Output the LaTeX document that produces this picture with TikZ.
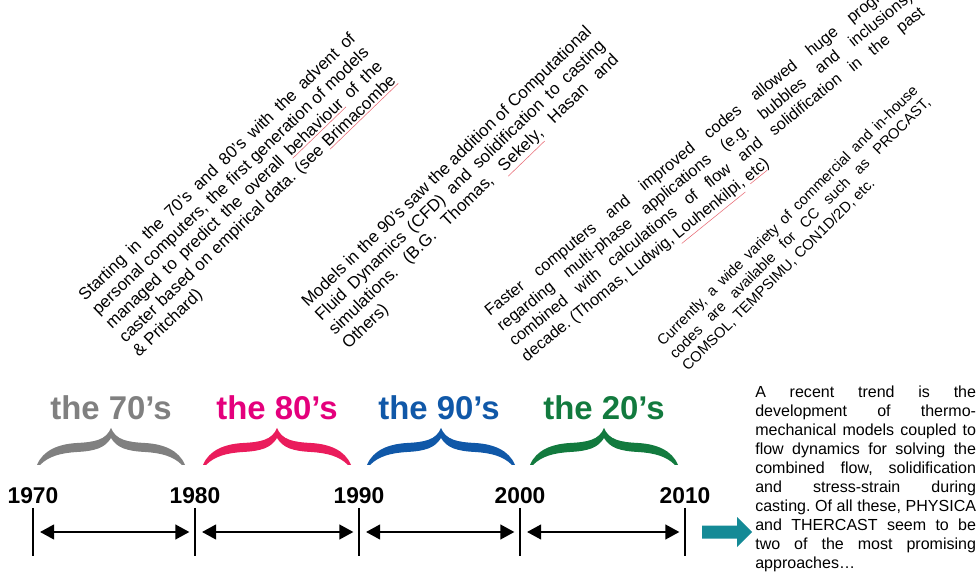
\documentclass[tikz,border=0pt]{standalone}
\usepackage{fontspec}
\setmainfont{Liberation Sans}
\usetikzlibrary{arrows.meta}
\definecolor{gray70}{RGB}{128,128,128}
\definecolor{pink80}{RGB}{228,0,124}
\definecolor{red80}{RGB}{234,28,92}
\definecolor{blue90}{RGB}{16,88,168}
\definecolor{green20}{RGB}{18,122,62}
\definecolor{arrowteal}{RGB}{20,138,150}
\definecolor{spellred}{RGB}{232,110,120}
\newcommand{\spell}[1]{{\color{spellred}\underline{\color{black}#1}}}
\frenchspacing
\hyphenpenalty=10000
\exhyphenpenalty=10000
\tolerance=10000
\tikzset{
  note/.style={inner sep=0, align=justify, anchor=base west, font=\fontsize{12}{13.8}\selectfont},
  decade/.style={inner sep=0, anchor=base, font=\fontsize{23.4}{28}\selectfont\bfseries},
  year/.style={inner sep=0, font=\fontsize{16.2}{19}\selectfont\bfseries},
  tickline/.style={line width=1.5pt},
  yearspan/.style={line width=1.4pt, {Triangle[length=10pt,width=10.5pt]}-{Triangle[length=10pt,width=10.5pt]}, shorten <=5pt, shorten >=4pt},
}
\begin{document}
\begin{tikzpicture}[x=0.025cm, y=0.025cm]
      \path[use as bounding box] (0,0) rectangle (977,571);
      \clip (0,0) rectangle (977,571);
      \node[note, text width=268pt, rotate=44] (n70) at (85,269) {Starting in the 70's and 80's with the advent of\linebreak personal computers, the first generation of models\linebreak managed to predict the overall \spell{behaviour} of the\linebreak caster based on empirical data. (see \spell{Brimacombe}\linebreak \& Pritchard)};
      \node[note, text width=281pt, rotate=44] (n90) at (308,263) {Models in the 90's saw the addition of Computational\linebreak Fluid Dynamics (CFD) and solidification to casting\linebreak simulations. (B.G. Thomas, \spell{Sekely}, Hasan and\linebreak Others)};
      \node[note, text width=376pt, rotate=39, font=\fontsize{11.5}{13.8}\selectfont] (npast) at (490,254) {Faster computers and improved codes allowed huge progress\linebreak regarding multi-phase applications (e.g. bubbles and inclusions)\linebreak combined with calculations of flow and solidification in the past\linebreak decade. (Thomas, Ludwig, \spell{Louhenkilpi}, \spell{etc})};
      \node[note, text width=257pt, rotate=45, font=\fontsize{10.5}{12.5}\selectfont] (nnow) at (663,224) {Currently, a wide variety of commercial and in-house\linebreak codes are available for CC such as PROCAST,\linebreak COMSOL, TEMPSIMU, CON1D/2D, etc.};
      \foreach \bx/\bcol in {37/gray70, 203/red80, 367/blue90, 530/green20}
        \fill[\bcol, shift={(\bx,106)}] (0,0) .. controls (6,15) and (22,21) .. (40,22) .. controls (58,23) and (69,25) .. (74,37) .. controls (79,25) and (90,23) .. (108,22) .. controls (126,21) and (142,15) .. (148,0) -- (145,0) .. controls (136,9) and (124,12) .. (108,13) .. controls (90,14) and (80,17) .. (74,27) .. controls (68,17) and (58,14) .. (40,13) .. controls (24,12) and (12,9) .. (3,0) -- cycle;
      \node[decade, text=gray70] (d70) at (111,151) {the 70’s};
      \node[decade, text=pink80] (d80) at (277,151) {the 80’s};
      \node[decade, text=blue90] (d90) at (439,151) {the 90’s};
      \node[decade, text=green20] (d20) at (604,151) {the 20’s};
      \coordinate (c70) at (33,39);
      \coordinate (c80) at (195,39);
      \coordinate (c90) at (359,39);
      \coordinate (c00) at (520,39);
      \coordinate (c10) at (685,39);
      \foreach \c in {c70,c80,c90,c00,c10}
        \draw[tickline] (\c) ++(0,24) -- ++(0,-48);
      \node[year] (y70) at (33,75) {1970};
      \node[year] (y80) at (195,75) {1980};
      \node[year] (y90) at (359,75) {1990};
      \node[year] (y00) at (520,75) {2000};
      \node[year] (y10) at (685,75) {2010};
      \draw[yearspan] (c70) -- (c80);
      \draw[yearspan] (c80) -- (c90);
      \draw[yearspan] (c90) -- (c00);
      \draw[yearspan] (c00) -- (c10);
      \fill[arrowteal] (702,45.5) -- (737,45.5) -- (737,54) -- (752,39) -- (737,24) -- (737,32.5) -- (702,32.5) -- cycle;
      \node[note, font=\fontsize{11.4}{13.5}\selectfont, text width=157pt] (trend) at (755,173) {A recent trend is the\linebreak development of thermo-\linebreak mechanical models coupled to\linebreak flow dynamics for solving the\linebreak combined flow, solidification\linebreak and stress-strain during\linebreak casting. Of all these, PHYSICA\linebreak and THERCAST seem to be\linebreak two of the most promising\linebreak approaches…};
    \end{tikzpicture}
\end{document}
